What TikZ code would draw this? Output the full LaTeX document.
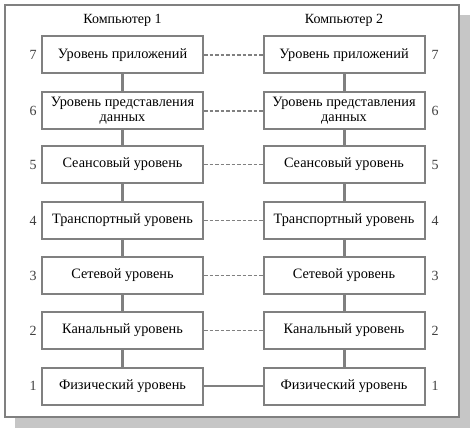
\documentclass[tikz,border=0pt]{standalone}
\usepackage{fontspec}
\setmainfont{Liberation Serif}
\usetikzlibrary{patterns}
\tikzset{level/.style={draw=gray,line width=2pt,fill=white,minimum width=161pt,
			minimum height=37pt,align=center,inner sep=1pt,font=\fontsize{14.3}{15}\selectfont},
	num/.style={font=\fontsize{14}{15}\selectfont,black!75},
	peer/.style={gray,line width=1.6pt,dash pattern=on 3.5pt off 2pt},
	stack/.style={gray,line width=3pt}}

\begin{document}
\begin{tikzpicture}[x=1pt,y=-1pt]
				\useasboundingbox (0,0) rectangle (472,433);
				\fill[gray!45] (15,15) rectangle (470,428);
				\draw[gray,line width=2pt,fill=white] (5,5) rectangle (459,417);
				\node[num,black] (pc1) at (122.5,20){Компьютер 1};
				\node[num,black] (pc2) at (344,20){Компьютер 2};
				% left stack
				\node[level] (l7) at (122.5,55){Уровень приложений};
				\node[level] (l6) at (122.5,111){Уровень представления\\данных};
				\node[level] (l5) at (122.5,164.5){Сеансовый уровень};
				\node[level] (l4) at (122.5,220.5){Транспортный уровень};
				\node[level] (l3) at (122.5,275.5){Сетевой уровень};
				\node[level] (l2) at (122.5,330.5){Канальный уровень};
				\node[level] (l1) at (122.5,386){Физический уровень};
				% right stack
				\node[level] (r7) at (344,55){Уровень приложений};
				\node[level] (r6) at (344,111){Уровень представления\\данных};
				\node[level] (r5) at (344,164.5){Сеансовый уровень};
				\node[level] (r4) at (344,220.5){Транспортный уровень};
				\node[level] (r3) at (344,275.5){Сетевой уровень};
				\node[level] (r2) at (344,330.5){Канальный уровень};
				\node[level] (r1) at (344,386){Физический уровень};
				\draw[stack] (l7)--(l6) (l6)--(l5) (l5)--(l4) (l4)--(l3) (l3)--(l2) (l2)--(l1);
				\draw[stack] (r7)--(r6) (r6)--(r5) (r5)--(r4) (r4)--(r3) (r3)--(r2) (r2)--(r1);
				\draw[peer] (l7)--(r7) (l6)--(r6) (l5)--(r5) (l4)--(r4) (l3)--(r3) (l2)--(r2);
				\draw[gray,line width=1.8pt] (l1)--(r1);
				\node[num] (n7) at (33,55){7};
				\node[num] (n6) at (33,111){6};
				\node[num] (n5) at (33,164.5){5};
				\node[num] (n4) at (33,220.5){4};
				\node[num] (n3) at (33,275.5){3};
				\node[num] (n2) at (33,330.5){2};
				\node[num] (n1) at (33,386){1};
				\node[num] (m7) at (435,55){7};
				\node[num] (m6) at (435,111){6};
				\node[num] (m5) at (435,164.5){5};
				\node[num] (m4) at (435,220.5){4};
				\node[num] (m3) at (435,275.5){3};
				\node[num] (m2) at (435,330.5){2};
				\node[num] (m1) at (435,386){1};
			\end{tikzpicture}
\end{document}
